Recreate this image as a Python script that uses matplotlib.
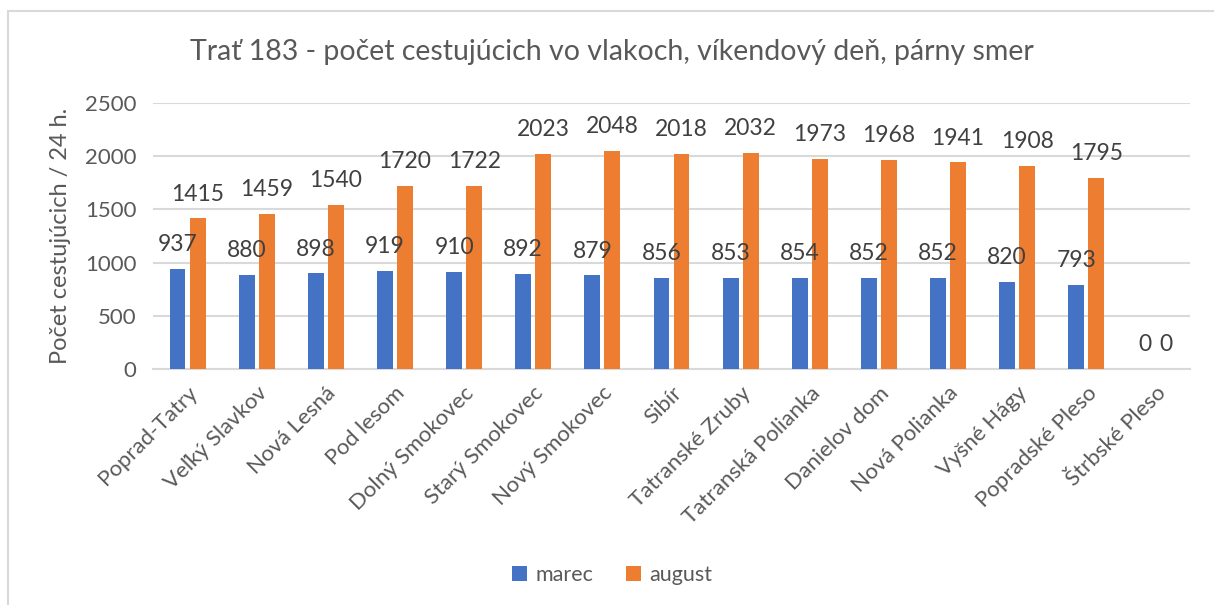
import matplotlib
matplotlib.use("Agg")
import matplotlib.pyplot as plt
import numpy as np
from matplotlib.patches import Rectangle

stations = ["Poprad-Tatry", "Veľký Slavkov", "Nová Lesná", "Pod lesom", "Dolný Smokovec",
            "Starý Smokovec", "Nový Smokovec", "Sibír", "Tatranské Zruby",
            "Tatranská Polianka", "Danielov dom", "Nová Polianka", "Vyšné Hágy",
            "Popradské Pleso", "Štrbské Pleso"]
marec = [937, 880, 898, 919, 910, 892, 879, 856, 853, 854, 852, 852, 820, 793, 0]
august = [1415, 1459, 1540, 1720, 1722, 2023, 2048, 2018, 2032, 1973, 1968, 1941, 1908, 1795, 0]
y_ticks = [0, 500, 1000, 1500, 2000, 2500]

plt.rcParams["font.family"] = ["Lato", "DejaVu Sans"]

BLUE = "#4472C4"
ORANGE = "#ED7D31"
GRID = "#d9d9d9"
TXT = "#595959"

fig = plt.figure(figsize=(12.14, 6.05), dpi=100)
ax = fig.add_axes([153 / 1214, 1 - 369 / 605, (1190 - 153) / 1214, (369 - 103) / 605])

# chart area border (left and top edges inside the canvas)
fig.patches.append(Rectangle((8 / 1214, -0.05), 1.05, 1.05 - 11 / 605, transform=fig.transFigure,
                             fill=False, edgecolor=GRID, linewidth=1.5))

x = np.arange(len(stations))
w = 0.23
gap = 0.06
off = (w + gap) / 2
b1 = ax.bar(x - off, marec, w, color=BLUE, label="marec", zorder=3)
b2 = ax.bar(x + off, august, w, color=ORANGE, label="august", zorder=3)

for bars, vals in ((b1, marec), (b2, august)):
    for r, v in zip(bars, vals):
        ax.annotate(f"{v}", (r.get_x() + r.get_width() / 2, v), xytext=(0, 10),
                    textcoords="offset points", ha="center", va="bottom",
                    fontsize=16.5, color="#404040", zorder=4)

ax.set_xlim(-0.5, len(stations) - 0.5)
ax.set_ylim(0, 2500)
ax.set_yticks(y_ticks)
ax.set_yticklabels([str(t) for t in y_ticks])
ax.set_xticks(x)
ax.set_xticklabels(stations, rotation=45, ha="right", rotation_mode="anchor")
ax.tick_params(axis="both", length=0, labelsize=16, labelcolor=TXT)
ax.tick_params(axis="x", pad=10)
ax.tick_params(axis="y", pad=12)
ax.grid(axis="y", color=GRID, linewidth=1.5, zorder=0)
for s in ("top", "right", "left"):
    ax.spines[s].set_visible(False)
ax.spines["bottom"].set_color(GRID)
ax.spines["bottom"].set_linewidth(1.5)

ax.set_ylabel("Počet cestujúcich / 24 h.", fontsize=17, color=TXT, labelpad=10)

fig.text(612 / 1214, 1 - 52 / 605, "Trať 183 - počet cestujúcich vo vlakoch, víkendový deň, párny smer",
         ha="center", va="center", fontsize=20.5, color=TXT)

leg = fig.legend(handles=[b1, b2], loc="center", bbox_to_anchor=(612 / 1214, 1 - 575 / 605),
                 ncol=2, frameon=False, fontsize=15.5, handlelength=0.7, handleheight=0.7,
                 columnspacing=1.5, handletextpad=0.4)
for t in leg.get_texts():
    t.set_color(TXT)

fig.savefig("out.png", dpi=100)
